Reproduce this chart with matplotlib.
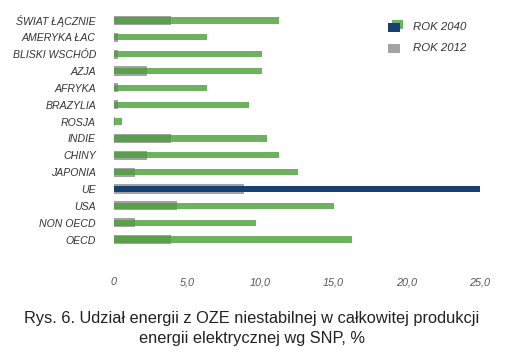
import matplotlib
matplotlib.use("Agg")
import matplotlib.pyplot as plt
from matplotlib.colors import to_rgba
from matplotlib.patches import Rectangle
from matplotlib.legend_handler import HandlerBase

categories = ["ŚWIAT ŁĄCZNIE", "AMERYKA ŁAC", "BLISKI WSCHÓD", "AZJA", "AFRYKA",
              "BRAZYLIA", "ROSJA", "INDIE", "CHINY", "JAPONIA", "UE", "USA",
              "NON OECD", "OECD"]
rok_2040 = [11.3, 6.35, 10.1, 10.1, 6.35, 9.2, 0.55, 10.45, 11.3, 12.6, 25.0, 15.0, 9.7, 16.25]
rok_2012 = [3.9, 0.3, 0.3, 2.25, 0.3, 0.3, 0.1, 3.9, 2.25, 1.45, 8.9, 4.3, 1.45, 3.9]
highlight = "UE"
xticks = [0, 5, 10, 15, 20, 25]
xtick_labels = ["0", "5,0", "10,0", "15,0", "20,0", "25,0"]

GREEN = "#6db35f"
GREEN_BASE = "#48a037"   # drawn at alpha 0.8 -> looks like GREEN over white
NAVY = "#173f72"
GRAY = "#a3a3a3"
TXT = "#333333"

plt.rcParams['font.family'] = ['Liberation Sans', 'DejaVu Sans']

fig = plt.figure(figsize=(5.05, 3.52), dpi=100)
ax = fig.add_axes([114/505, 1 - 248/352, (480-114)/505, (248-12)/352])

y = list(range(len(categories)))
colors = [to_rgba(NAVY, 1.0) if c == highlight else to_rgba(GREEN_BASE, 0.8) for c in categories]
ax.barh(y, rok_2012, height=0.55, color=GRAY, zorder=2, linewidth=0)
ax.barh(y, rok_2040, height=0.38, color=colors, zorder=3, linewidth=0)

ax.set_ylim(len(categories) - 0.5, -0.5)
ax.set_xlim(0, 25)
ax.set_yticks(y)
ax.set_yticklabels(categories, fontstyle='italic', fontsize=7.6, color=TXT)
ax.set_xticks(xticks)
ax.set_xticklabels(xtick_labels, fontstyle='italic', fontsize=7.8, color="#555555")
ax.tick_params(axis='both', length=0)
ax.tick_params(axis='y', pad=13)
ax.tick_params(axis='x', pad=21)
for s in ax.spines.values():
    s.set_visible(False)


class HandlerDouble(HandlerBase):
    def create_artists(self, legend, orig_handle, xdescent, ydescent, width, height, fontsize, trans):
        h = height * 1.1
        w = width
        r1 = Rectangle((xdescent + w * 0.25, -ydescent + h * 0.15), w * 0.75, h * 0.85,
                       facecolor=GREEN, edgecolor='none', transform=trans)
        r2 = Rectangle((xdescent, -ydescent - h * 0.15), w * 0.8, h * 0.9,
                       facecolor=NAVY, edgecolor='none', transform=trans)
        return [r1, r2]


class HandlerSingle(HandlerBase):
    def create_artists(self, legend, orig_handle, xdescent, ydescent, width, height, fontsize, trans):
        h = height * 1.1
        r = Rectangle((xdescent, -ydescent - h * 0.15), width * 0.8, h * 0.9,
                      facecolor=GRAY, edgecolor='none', transform=trans)
        return [r]


h1 = Rectangle((0, 0), 1, 1)
h2 = Rectangle((0, 0), 1, 1, facecolor=GRAY)
leg = fig.legend([h1, h2], ["ROK 2040", "ROK 2012"],
                 handler_map={h1: HandlerDouble(), h2: HandlerSingle()},
                 loc='upper left', bbox_to_anchor=(388/505, 1 - 21/352),
                 frameon=False, prop={'style': 'italic', 'size': 8.2},
                 handlelength=1.3, handleheight=0.9, handletextpad=0.9,
                 labelspacing=0.95, borderpad=0, borderaxespad=0)
for t in leg.get_texts():
    t.set_color(TXT)

fig.text(252/505, 1 - 318/352,
         "Rys. 6. Udział energii z OZE niestabilnej w całkowitej produkcji",
         ha='center', va='center', fontsize=11.8, color="#222222")
fig.text(252/505, 1 - 339/352,
         "energii elektrycznej wg SNP, %",
         ha='center', va='center', fontsize=11.8, color="#222222")

fig.savefig("out.png", dpi=100)
